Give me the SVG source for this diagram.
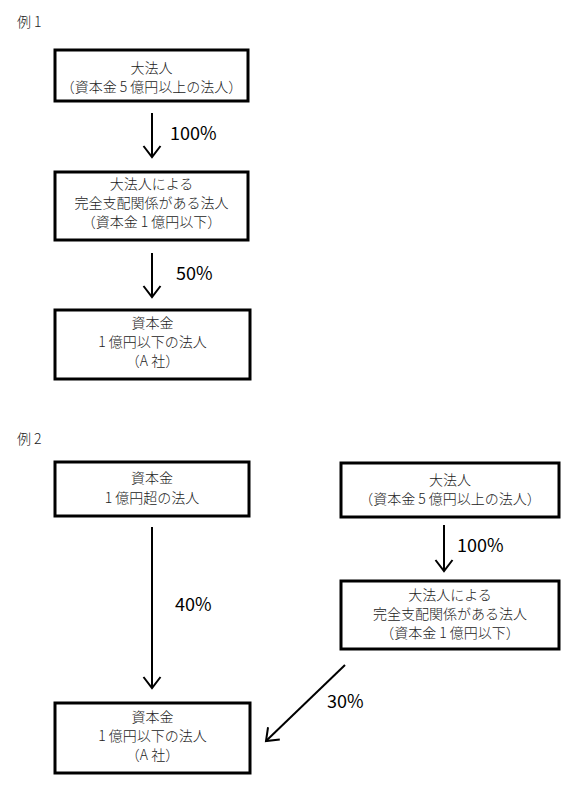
<svg xmlns="http://www.w3.org/2000/svg" width="567" height="788" viewBox="0 0 567 788">
<style>
.box{fill:#fff;stroke:#000;stroke-width:3}
.t{font-family:"Noto Sans CJK JP","Noto Sans",sans-serif;font-size:14px;font-weight:300;fill:#222;text-anchor:middle}
.h{font-family:"Noto Sans CJK JP","Noto Sans",sans-serif;font-size:14px;font-weight:300;fill:#222}
.p{font-family:"Noto Sans CJK JP","Noto Sans",sans-serif;font-size:18px;font-weight:400;fill:#000}
.c{fill:none;stroke:#000;stroke-width:2}
</style>
<defs>
<marker id="ah" markerUnits="userSpaceOnUse" markerWidth="24" markerHeight="24" viewBox="-12 -12 24 24" refX="0" refY="0" orient="auto" overflow="visible">
<path d="M-11,-8.5 L0,0 L-11,8.5" fill="none" stroke="#000" stroke-width="2"/>
</marker>
</defs>
<text class="h" x="17" y="27">例 1</text>
<text class="h" x="17" y="444">例 2</text>
<g id="n1"><rect class="box" x="55" y="50" width="193" height="51"/>
<text class="t" x="151.5" y="73">大法人</text>
<text class="t" x="151.5" y="92">（資本金 5 億円以上の法人）</text></g>
<g id="n2"><rect class="box" x="55" y="172" width="193" height="68"/>
<text class="t" x="151.5" y="189">大法人による</text>
<text class="t" x="151.5" y="208">完全支配関係がある法人</text>
<text class="t" x="151.5" y="227">（資本金 1 億円以下）</text></g>
<g id="n3"><rect class="box" x="55" y="310" width="195" height="69"/>
<text class="t" x="152.5" y="328">資本金</text>
<text class="t" x="152.5" y="347">1 億円以下の法人</text>
<text class="t" x="152.5" y="366">（A 社）</text></g>
<g id="n4"><rect class="box" x="55" y="462" width="194" height="54"/>
<text class="t" x="152" y="483">資本金</text>
<text class="t" x="152" y="503">1 億円超の法人</text></g>
<g id="n5"><rect class="box" x="341" y="463" width="218" height="54"/>
<text class="t" x="450" y="485">大法人</text>
<text class="t" x="450" y="504">（資本金 5 億円以上の法人）</text></g>
<g id="n6"><rect class="box" x="341" y="581" width="218" height="68"/>
<text class="t" x="450" y="600">大法人による</text>
<text class="t" x="450" y="619">完全支配関係がある法人</text>
<text class="t" x="450" y="638">（資本金 1 億円以下）</text></g>
<g id="n7"><rect class="box" x="55" y="703" width="195" height="70"/>
<text class="t" x="152.5" y="722">資本金</text>
<text class="t" x="152.5" y="741">1 億円以下の法人</text>
<text class="t" x="152.5" y="760">（A 社）</text></g>
<g id="connectors">
<line class="c" x1="152" y1="113" x2="152" y2="157" marker-end="url(#ah)"/>
<line class="c" x1="152" y1="253" x2="152" y2="297" marker-end="url(#ah)"/>
<line class="c" x1="444" y1="525" x2="444" y2="571" marker-end="url(#ah)"/>
<line class="c" x1="152" y1="527" x2="152" y2="688" marker-end="url(#ah)"/>
<line class="c" x1="345" y1="665" x2="266" y2="741" marker-end="url(#ah)"/>
<text class="p" x="170" y="140">100%</text>
<text class="p" x="176" y="280">50%</text>
<text class="p" x="457" y="552">100%</text>
<text class="p" x="175" y="611">40%</text>
<text class="p" x="327" y="708">30%</text>
</g>
</svg>
